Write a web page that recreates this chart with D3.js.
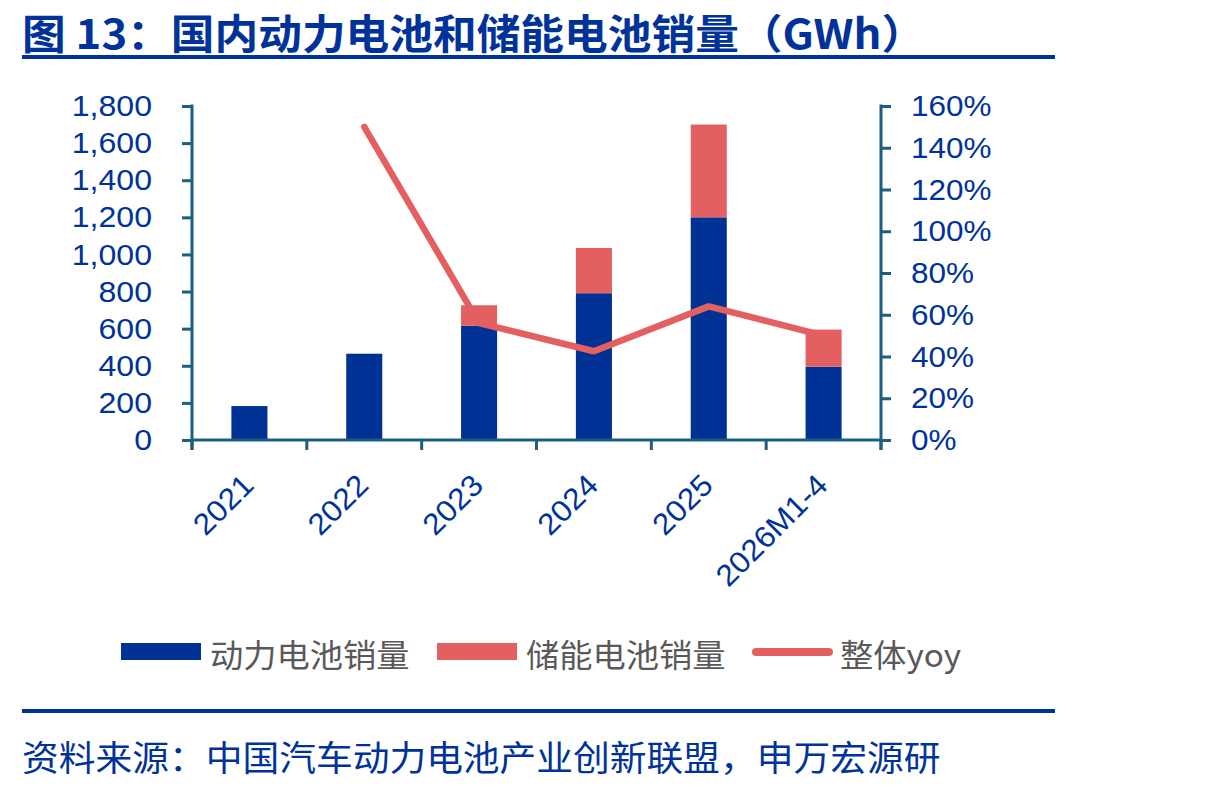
<!DOCTYPE html>
<html>
<head>
<meta charset="utf-8">
<script src="https://cdn.jsdelivr.net/npm/d3@7"></script>
<style>
  html, body { margin: 0; padding: 0; background: #fff; }
  svg { display: block; }
</style>
</head>
<body>
<svg id="chart" width="1224" height="787"></svg>
<script>
// ---- data ----
const categories = ["2021", "2022", "2023", "2024", "2025", "2026M1-4"];
const powerSales = [183, 465, 616, 791, 1200, 395];      // 动力电池销量 GWh
const storageSales = [0, 0, 110, 244, 500, 200];         // 储能电池销量 GWh
const yoy = [null, 150, 56, 42.5, 64, 50];                // 整体yoy %
const leftTicks = [0, 200, 400, 600, 800, 1000, 1200, 1400, 1600, 1800];
const rightTicks = [0, 20, 40, 60, 80, 100, 120, 140, 160];
const seriesNames = ["动力电池销量", "储能电池销量", "整体yoy"];
const titleText = "图 13：国内动力电池和储能电池销量（GWh）";
const sourceText = "资料来源：中国汽车动力电池产业创新联盟，申万宏源研";

// ---- style ----
const BLUE = "#003296";
const RED = "#e46060";
const AXIS = "#1d5f80";
const TEXTBLUE = "#003399";
const CJK = "'Noto Sans CJK SC', 'Noto Sans', sans-serif";
const LATIN = "'Liberation Sans', Arial, sans-serif";

const svg = d3.select("#chart");

const plot = { left: 192, right: 881, top: 106, bottom: 440 };

const x = d3.scaleBand().domain(categories)
  .range([plot.left, plot.right]).paddingInner(0.686).paddingOuter(0.343);
const yL = d3.scaleLinear().domain([0, 1800]).range([plot.bottom, plot.top]);
const yR = d3.scaleLinear().domain([0, 160]).range([plot.bottom, plot.top]);

// title
svg.append("text").attr("transform", "translate(22,31) scale(1.066,1)")
  .attr("dominant-baseline", "central")
  .attr("font-family", CJK).attr("font-weight", 700).attr("font-size", 41)
  .attr("fill", TEXTBLUE).text(titleText);
svg.append("rect").attr("x", 22).attr("y", 55).attr("width", 1033).attr("height", 4).attr("fill", TEXTBLUE);

// bars
const stackData = categories.map((c, i) => ({ cat: c, power: powerSales[i], storage: storageSales[i] }));
const stacked = d3.stack().keys(["power", "storage"])(stackData);
const colors = [BLUE, RED];
stacked.forEach((layer, li) => {
  svg.append("g").selectAll("rect").data(layer).join("rect")
    .attr("x", d => x(d.data.cat))
    .attr("width", x.bandwidth())
    .attr("y", d => yL(d[1]))
    .attr("height", d => yL(d[0]) - yL(d[1]))
    .attr("fill", colors[li]);
});

// line
const lineData = categories.map((c, i) => ({ cat: c, v: yoy[i] }));
svg.append("path").datum(lineData)
  .attr("fill", "none").attr("stroke", RED).attr("stroke-width", 6.5)
  .attr("stroke-linejoin", "round").attr("stroke-linecap", "round")
  .attr("d", d3.line().defined(d => d.v != null)
    .x(d => x(d.cat) + x.bandwidth() / 2).y(d => yR(d.v)));

// left axis
const gL = svg.append("g").attr("transform", `translate(${plot.left},0)`)
  .call(d3.axisLeft(yL).tickValues(leftTicks).tickSize(10).tickPadding(30)
    .tickFormat(d3.format(",")));
gL.select(".domain").remove();
gL.selectAll(".tick line").attr("stroke", AXIS).attr("stroke-width", 3);
gL.selectAll(".tick text").attr("font-family", LATIN).attr("font-size", 30).attr("fill", TEXTBLUE)
  .attr("x", 0).attr("transform", "translate(-40,0) scale(1.07,1)");

// right axis
const gR = svg.append("g").attr("transform", `translate(${plot.right},0)`)
  .call(d3.axisRight(yR).tickValues(rightTicks).tickSize(10).tickPadding(19)
    .tickFormat(d => d + "%"));
gR.select(".domain").remove();
gR.selectAll(".tick line").attr("stroke", AXIS).attr("stroke-width", 3);
gR.selectAll(".tick text").attr("font-family", LATIN).attr("font-size", 30).attr("fill", TEXTBLUE)
  .attr("x", 0).attr("transform", "translate(30,0) scale(1.05,1)");

// vertical axis lines
[plot.left, plot.right].forEach(px => {
  svg.append("line").attr("x1", px).attr("x2", px)
    .attr("y1", plot.top - 1.5).attr("y2", plot.bottom + 10)
    .attr("stroke", AXIS).attr("stroke-width", 3);
});

// bottom axis
const gB = svg.append("g").attr("transform", `translate(0,${plot.bottom})`)
  .call(d3.axisBottom(x).tickSize(0).tickPadding(0));
gB.select(".domain").remove();
gB.selectAll(".tick text")
  .attr("font-family", LATIN).attr("font-size", 30).attr("fill", TEXTBLUE)
  .attr("text-anchor", "end").attr("dy", 0)
  .attr("transform", "translate(6,47) rotate(-45) scale(1.06,1)")
  .attr("y", 0).attr("x", 0);
svg.append("line").attr("x1", plot.left).attr("x2", plot.right)
  .attr("y1", plot.bottom).attr("y2", plot.bottom)
  .attr("stroke", AXIS).attr("stroke-width", 3);
const edges = categories.map(c => x(c) + x.bandwidth() / 2 - x.step() / 2);
edges.push(plot.right);
svg.append("g").selectAll("line").data(edges).join("line")
  .attr("x1", d => d).attr("x2", d => d)
  .attr("y1", plot.bottom).attr("y2", plot.bottom + 10)
  .attr("stroke", AXIS).attr("stroke-width", 3);

// legend
const legendX = [121, 437, 752];
const lg = svg.append("g");
seriesNames.forEach((name, i) => {
  if (i < 2) {
    lg.append("rect").attr("x", legendX[i]).attr("y", 643).attr("width", 80).attr("height", 17)
      .attr("fill", colors[i]);
  } else {
    lg.append("line").attr("x1", legendX[i] + 4).attr("x2", legendX[i] + 77)
      .attr("y1", 652).attr("y2", 652).attr("stroke", RED).attr("stroke-width", 8)
      .attr("stroke-linecap", "round");
  }
  lg.append("text").attr("transform", `translate(${legendX[i] + (i < 2 ? 89 : 88)},653) scale(1.04,1)`)
    .attr("dominant-baseline", "central")
    .attr("font-family", CJK).attr("font-size", 32).attr("fill", "#595959").text(name);
});

// bottom rule + source
svg.append("rect").attr("x", 22).attr("y", 709).attr("width", 1033).attr("height", 4).attr("fill", TEXTBLUE);
svg.append("text").attr("transform", "translate(22,755) scale(1.05,1)")
  .attr("dominant-baseline", "central")
  .attr("font-family", CJK).attr("font-size", 35).attr("fill", TEXTBLUE).text(sourceText);
</script>
</body>
</html>
